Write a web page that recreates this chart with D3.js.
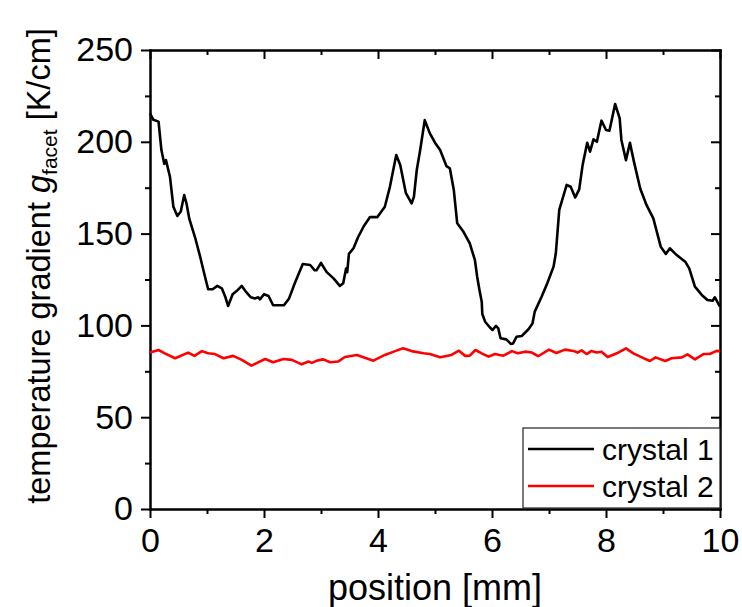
<!DOCTYPE html>
<html>
<head>
<meta charset="utf-8">
<script src="https://cdn.jsdelivr.net/npm/d3@7"></script>
<style>
  body { margin: 0; background: #fff; }
  svg { display: block; font-family: "Liberation Sans", Arial, sans-serif; }
  .axis path, .axis line { stroke: #000; stroke-width: 2; }
  .axis text { font-size: 34px; fill: #000; }
</style>
</head>
<body>
<div id="chart"></div>
<script>
// crystal 1 (black)
const crystal1X = [0, 0.06, 0.15, 0.2, 0.25, 0.28, 0.35, 0.41, 0.48, 0.54, 0.6, 0.64, 0.69, 0.79, 0.88, 0.95,
  1.02, 1.1, 1.18, 1.26, 1.32, 1.37, 1.45, 1.52, 1.61, 1.68, 1.77, 1.84, 1.9, 1.93, 2.0, 2.08, 2.16, 2.28,
  2.35, 2.44, 2.54, 2.68, 2.81, 2.89, 2.92, 3.0, 3.1, 3.22, 3.33, 3.39, 3.44, 3.46, 3.49, 3.57, 3.65, 3.75,
  3.86, 3.99, 4.12, 4.21, 4.32, 4.39, 4.49, 4.59, 4.63, 4.68, 4.74, 4.82, 4.91, 5.0, 5.09, 5.2, 5.26, 5.33,
  5.39, 5.5, 5.61, 5.7, 5.74, 5.78, 5.82, 5.83, 5.88, 5.96, 6.01, 6.07, 6.11, 6.15, 6.25, 6.33, 6.37, 6.43,
  6.52, 6.64, 6.71, 6.75, 6.87, 6.97, 7.08, 7.12, 7.18, 7.31, 7.38, 7.46, 7.53, 7.59, 7.67, 7.72, 7.78, 7.84,
  7.92, 8.0, 8.06, 8.16, 8.24, 8.27, 8.35, 8.42, 8.49, 8.6, 8.71, 8.83, 8.96, 9.05, 9.12, 9.24, 9.39, 9.46,
  9.56, 9.68, 9.78, 9.87, 9.91, 10.0];
const crystal1Y = [215.5, 212, 211, 195.5, 188, 190, 181, 164.6, 159.6, 162, 171, 166.5, 158, 148, 137.4, 128.4,
  119.7, 119.7, 121.5, 120.2, 115.6, 110.6, 117, 118.7, 121.5, 118.4, 115.3, 114.7, 115.3, 114.2, 117, 116, 111, 111,
  111, 114.7, 123, 133.4, 132.9, 130, 130, 134, 129, 125.6, 121.5, 123, 131, 129, 139, 142, 148, 154,
  159, 159, 164.6, 175.6, 192.8, 187.4, 172, 166.5, 170, 184.6, 195.5, 211.8, 204.6, 199.5, 195.5, 186.8, 185.6, 173.7,
  155.6, 151, 144.7, 135.6, 126.5, 119.3, 112.9, 106.2, 102, 99, 97.5, 99.7, 98.4, 93, 92.4, 89.9, 90.2, 93.8,
  94.2, 97.9, 101, 107.5, 115.6, 123, 132, 139.3, 162.9, 176.5, 175.5, 169.7, 174.1, 187.4, 199.5, 194.6, 201.3, 200,
  211.5, 206.4, 206, 220.6, 212.8, 201, 190, 199.5, 189.2, 174.6, 165.6, 158.3, 142.9, 138.9, 142, 138.3, 134.7, 131.1,
  121.1, 116.6, 113.8, 113.4, 115.3, 110.2];

// crystal 2 (red)
const crystal2X = [0, 0.15, 0.26, 0.44, 0.67, 0.78, 0.91, 1.02, 1.14, 1.29, 1.46, 1.61, 1.78, 2.02, 2.16, 2.34,
  2.49, 2.66, 2.78, 2.84, 2.92, 3.04, 3.16, 3.3, 3.42, 3.63, 3.92, 4.12, 4.3, 4.44, 4.59, 4.8, 4.91, 5.09,
  5.29, 5.42, 5.53, 5.61, 5.71, 5.82, 5.94, 6.05, 6.2, 6.35, 6.45, 6.58, 6.7, 6.81, 7.0, 7.13, 7.28, 7.43,
  7.5, 7.57, 7.66, 7.74, 7.84, 7.92, 8.03, 8.19, 8.35, 8.48, 8.63, 8.77, 8.87, 9.04, 9.15, 9.33, 9.43, 9.56,
  9.71, 9.82, 9.94, 10.0];
const crystal2Y = [85.2, 86.6, 84.8, 82.1, 85.2, 83.4, 86, 84.8, 84.4, 82.1, 83.4, 81.2, 78.1, 81.7, 79.9, 81.7,
  81.2, 78.8, 80.3, 79.6, 80.7, 81.5, 79.9, 80.3, 82.8, 83.9, 80.8, 83.9, 86, 87.5, 86, 84.8, 84.4, 82.6,
  83.9, 86.2, 83.4, 83.5, 86.6, 84.8, 83, 84.4, 83.5, 86, 84.8, 85.7, 85.2, 83.2, 86.8, 85, 86.8, 86.1,
  85.2, 86.4, 84.4, 86, 85.2, 85.7, 82.8, 84.8, 87.5, 84.8, 82.6, 80.6, 82.6, 80.6, 82.1, 82.6, 84.2, 81.5,
  84.4, 84.4, 86.1, 86];

const xMajorTicks = [0, 2, 4, 6, 8, 10];
const xMinorTicks = [1, 3, 5, 7, 9];
const yMajorTicks = [0, 50, 100, 150, 200, 250];
const yMinorTicks = [25, 75, 125, 175, 225];
const seriesNames = ["crystal 1", "crystal 2"];
const seriesColors = ["#000000", "#ff0000"];

const width = 742, height = 607;
const margin = {top: 50, right: 22, bottom: 98, left: 150};
const innerW = width - margin.left - margin.right;
const innerH = height - margin.top - margin.bottom;

const svg = d3.select("#chart").append("svg")
  .attr("width", width)
  .attr("height", height);

const g = svg.append("g")
  .attr("transform", `translate(${margin.left},${margin.top})`);

const x = d3.scaleLinear().domain([0, 10]).range([0, innerW]);
const y = d3.scaleLinear().domain([0, 250]).range([innerH, 0]);

// major + minor ticks, bottom/left out, top/right pointing in
const addAxis = (axis, translate) => {
  const a = g.append("g").attr("class", "axis").attr("transform", translate).call(axis);
  return a;
};

addAxis(d3.axisBottom(x).tickValues(xMajorTicks).tickSizeInner(9).tickSizeOuter(0).tickPadding(10).tickFormat(d3.format("d")),
  `translate(0,${innerH})`);
addAxis(d3.axisBottom(x).tickValues(xMinorTicks).tickSizeInner(5).tickSizeOuter(0).tickFormat(""),
  `translate(0,${innerH})`);
addAxis(d3.axisTop(x).tickValues(xMajorTicks).tickSizeInner(-9).tickSizeOuter(0).tickFormat(""), "translate(0,0)");
addAxis(d3.axisTop(x).tickValues(xMinorTicks).tickSizeInner(-5).tickSizeOuter(0).tickFormat(""), "translate(0,0)");

addAxis(d3.axisLeft(y).tickValues(yMajorTicks).tickSizeInner(9).tickSizeOuter(0).tickPadding(8).tickFormat(d3.format("d")),
  "translate(0,0)");
addAxis(d3.axisLeft(y).tickValues(yMinorTicks).tickSizeInner(5).tickSizeOuter(0).tickFormat(""), "translate(0,0)");
addAxis(d3.axisRight(y).tickValues(yMajorTicks).tickSizeInner(-9).tickSizeOuter(0).tickFormat(""), `translate(${innerW},0)`);
addAxis(d3.axisRight(y).tickValues(yMinorTicks).tickSizeInner(-5).tickSizeOuter(0).tickFormat(""), `translate(${innerW},0)`);

g.selectAll(".axis path").attr("stroke-linecap", "square");

// lines
const line = d3.line().x(d => x(d[0])).y(d => y(d[1]));
const series = [
  d3.zip(crystal1X, crystal1Y),
  d3.zip(crystal2X, crystal2Y)
];

g.selectAll(".series")
  .data(series)
  .join("path")
  .attr("class", "series")
  .attr("fill", "none")
  .attr("stroke", (d, i) => seriesColors[i])
  .attr("stroke-width", 2.6)
  .attr("stroke-linejoin", "round")
  .attr("d", line);

// axis titles
svg.append("text")
  .attr("x", margin.left + innerW / 2)
  .attr("y", 600)
  .attr("text-anchor", "middle")
  .style("font-size", "36px")
  .text("position [mm]");

const yTitle = svg.append("text")
  .attr("transform", `translate(50,266) rotate(-90)`)
  .attr("text-anchor", "middle")
  .style("font-size", "32.5px");
yTitle.append("tspan").text("temperature gradient ");
yTitle.append("tspan").style("font-style", "italic").text("g");
yTitle.append("tspan").attr("dy", 7).style("font-size", "21px").text("facet");
yTitle.append("tspan").attr("dy", -7).text(" [K/cm]");

// legend
const legend = g.append("g").attr("transform", `translate(${innerW - 197},${innerH - 81})`);
legend.append("rect")
  .attr("width", 197)
  .attr("height", 80)
  .attr("fill", "#fff")
  .attr("stroke", "#222")
  .attr("stroke-width", 1.2);

seriesNames.forEach((name, i) => {
  const row = legend.append("g").attr("transform", `translate(0,${21 + i * 37})`);
  row.append("line")
    .attr("x1", 5).attr("x2", 71)
    .attr("stroke", seriesColors[i])
    .attr("stroke-width", 2.6);
  row.append("text")
    .attr("x", 79)
    .attr("y", 11)
    .style("font-size", "30px")
    .text(name);
});
</script>
</body>
</html>
